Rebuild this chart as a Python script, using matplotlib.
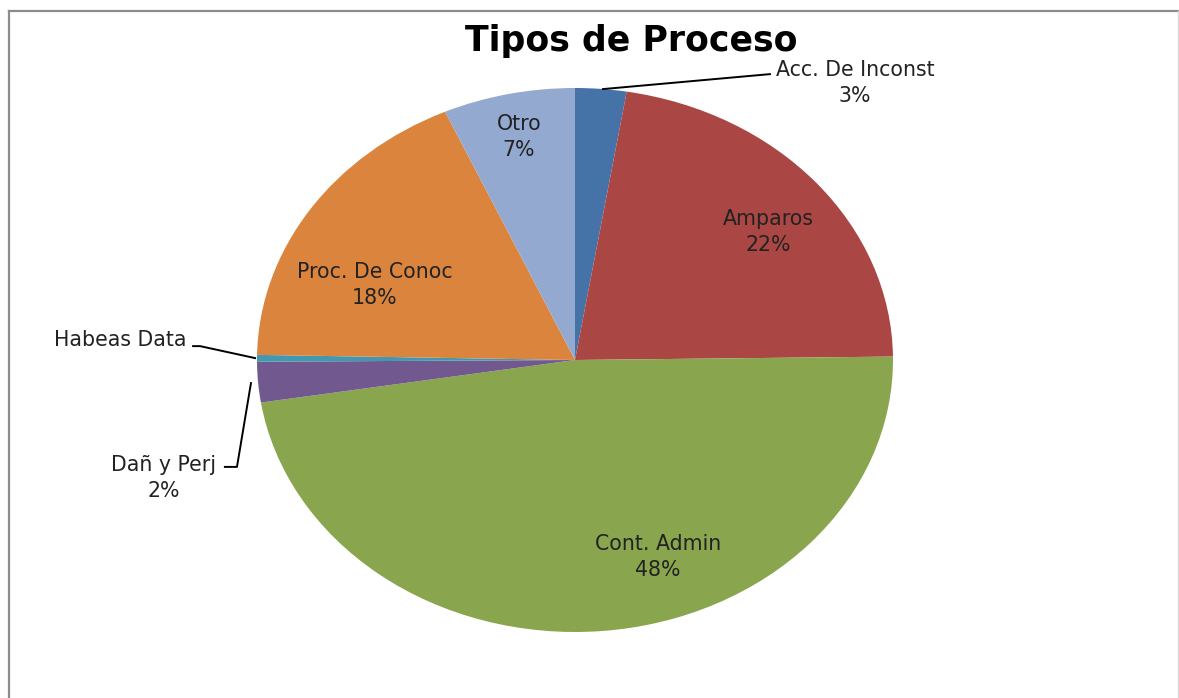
import matplotlib.pyplot as plt
from matplotlib.lines import Line2D

plt.rcParams['font.family'] = ['DejaVu Sans']

# datos (porcentaje por tipo de proceso)
categorias = ['Acc. De Inconst', 'Amparos', 'Cont. Admin', 'Dañ y Perj',
              'Habeas Data', 'Proc. De Conoc', 'Otro']
valores = [2.6, 22.2, 47.7, 2.4, 0.4, 18.0, 6.7]
etiquetas = ['Acc. De Inconst\n3%', 'Amparos\n22%', 'Cont. Admin\n48%',
             'Dañ y Perj\n2%', 'Habeas Data', 'Proc. De Conoc\n18%', 'Otro\n7%']
colores = ['#4572A7', '#AA4643', '#89A54E', '#71588F',
           '#4198AF', '#DB843D', '#93A9CF']

# posiciones de las etiquetas (en unidades del pie)
pos_etiquetas = [(0.88, 1.018), (0.607, 0.47), (0.261, -0.724),
                 (-1.293, -0.434), (-1.431, 0.074), (-0.629, 0.276),
                 (-0.176, 0.82)]

W, H = 1179, 698
fig = plt.figure(figsize=(W / 100, H / 100), dpi=100)

# marco del grafico
fig.add_artist(Line2D([9 / W, 9 / W], [0, 1 - 11 / H], color='#8c8c8c', lw=1.6,
                      transform=fig.transFigure))
fig.add_artist(Line2D([9 / W, 1], [1 - 11 / H, 1 - 11 / H], color='#8c8c8c', lw=1.6,
                      transform=fig.transFigure))
fig.add_artist(Line2D([1178 / W, 1178 / W], [0, 1 - 11 / H], color='#d8d8d8', lw=1.0,
                      transform=fig.transFigure))

# pie eliptico: ejes con proporcion de la elipse
cx, cy, rx, ry = 575, 360, 318, 272
ax = fig.add_axes([(cx - rx) / W, (H - cy - ry) / H, 2 * rx / W, 2 * ry / H])
ax.pie(valores, colors=colores, startangle=90, counterclock=False,
       wedgeprops={'linewidth': 0})
ax.set_aspect('auto')
ax.set_xlim(-1, 1)
ax.set_ylim(-1, 1)
ax.axis('off')

for txt, (x, y) in zip(etiquetas, pos_etiquetas):
    ax.text(x, y, txt, ha='center', va='center', fontsize=14.8,
            color='#222222', linespacing=1.35, clip_on=False)

# lineas guia
guias = [
    ([0.088, 0.613], [0.996, 1.051]),
    ([-1.201, -1.179, -1.006], [0.051, 0.051, 0.007]),
    ([-1.101, -1.063, -1.019], [-0.393, -0.393, -0.085]),
]
for gx, gy in guias:
    ax.plot(gx, gy, color='black', lw=1.4, clip_on=False)

fig.text(631 / W, 1 - 41 / H, 'Tipos de Proceso', ha='center', va='center',
         fontsize=25, fontweight='bold')

plt.savefig('out.png', dpi=100)
